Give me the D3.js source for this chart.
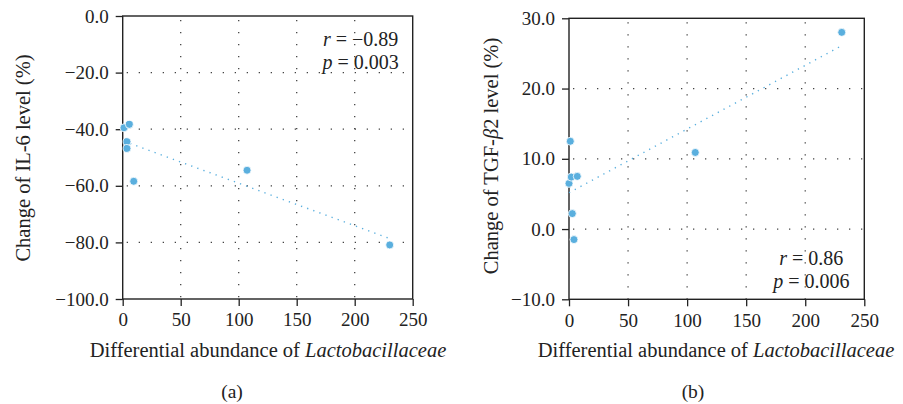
<!DOCTYPE html>
<html>
<head>
<meta charset="utf-8">
<script src="https://cdn.jsdelivr.net/npm/d3@7"></script>
<style>
  body { margin: 0; background: #fff; }
  svg { display: block; font-family: "Liberation Serif", "DejaVu Serif", serif; }
  .tick text { font-size: 19px; fill: #222; }
  .grid line { stroke: #444; stroke-width: 1.3; stroke-dasharray: 1.3 10.7; }
</style>
</head>
<body>
<script>
// chart data
var xTicks = [0, 50, 100, 150, 200, 250];

// panel (a): IL-6
var abundanceA = [1.1, 5.7, 3.7, 3.7, 9.5, 107.2, 230.2];
var il6Change = [-39.5, -38.3, -44.4, -46.8, -58.4, -54.5, -80.9];
var il6Ticks = [0, -20, -40, -60, -80, -100];
var statsA = ["r", " = \u22120.89", "p", " = 0.003"];

// panel (b): TGF-beta2
var abundanceB = [0.0, 1.1, 1.9, 7.0, 2.8, 4.2, 106.9, 230.9];
var tgfChange = [6.5, 12.5, 7.4, 7.5, 2.2, -1.5, 10.9, 28.0];
var tgfTicks = [30, 20, 10, 0, -10];
var statsB = ["r", " = 0.86", "p", " = 0.006"];

var w = 903, h = 404;
var dotColor = "#5aafde";
var serif = "'Liberation Serif', 'DejaVu Serif', serif";

var svg = d3.select("body").append("svg")
	.attr("width", w)
	.attr("height", h);

// least squares fit for the dotted trend line
function fit(xs, ys){
	var mx = d3.mean(xs), my = d3.mean(ys);
	var sxy = d3.sum(xs, function(x, i){ return (x - mx) * (ys[i] - my); });
	var sxx = d3.sum(xs, function(x){ return (x - mx) * (x - mx); });
	var b = sxy / sxx;
	return { slope: b, icpt: my - b * mx };
}

function drawPanel(p){
	var x = d3.scaleLinear().domain([0, 250]).range([p.left, p.right]);
	var y = d3.scaleLinear().domain(p.yDomain).range([p.bottom, p.top]);
	var g = svg.append("g").attr("class", "panel");

	// dotted grid
	var grid = g.append("g").attr("class", "grid");
	grid.selectAll(".vg")
		.data(xTicks.slice(1, -1))
		.enter().append("line")
		.attr("x1", function(d){ return x(d); })
		.attr("x2", function(d){ return x(d); })
		.attr("y1", p.top + 4)
		.attr("y2", p.bottom);
	grid.selectAll(".hg")
		.data(p.yTicks.slice(1, -1))
		.enter().append("line")
		.attr("x1", p.left + 4)
		.attr("x2", p.right)
		.attr("y1", function(d){ return y(d); })
		.attr("y2", function(d){ return y(d); });

	// axes
	var xAxis = g.append("g")
		.attr("transform", "translate(0," + p.bottom + ")")
		.call(d3.axisBottom(x).tickValues(xTicks).tickSize(7).tickPadding(7).tickFormat(d3.format("d")));
	var yAxis = g.append("g")
		.attr("transform", "translate(" + p.left + ",0)")
		.call(d3.axisLeft(y).tickValues(p.yTicks).tickSize(7).tickPadding(7).tickFormat(d3.format(".1f")));
	[xAxis, yAxis].forEach(function(a){
		a.attr("font-family", serif);
		a.select(".domain").remove();
		a.selectAll(".tick line").attr("stroke", "#222").attr("stroke-width", 1.3);
	});

	// box frame
	g.append("rect")
		.attr("x", p.left)
		.attr("y", p.top)
		.attr("width", p.right - p.left)
		.attr("height", p.bottom - p.top)
		.style("fill", "none")
		.style("stroke", "#222")
		.style("stroke-width", 1.4);

	// trend line
	var f = fit(p.xs, p.ys);
	var x0 = d3.min(p.xs), x1 = d3.max(p.xs);
	g.append("line")
		.attr("x1", x(x0)).attr("y1", y(f.icpt + f.slope * x0))
		.attr("x2", x(x1)).attr("y2", y(f.icpt + f.slope * x1))
		.style("stroke", dotColor)
		.style("stroke-width", 1.4)
		.style("stroke-dasharray", "1.3 5.2");

	// points
	g.selectAll(".pt")
		.data(p.xs)
		.enter().append("circle")
		.attr("class", "pt")
		.attr("cx", function(d){ return x(d); })
		.attr("cy", function(d, i){ return y(p.ys[i]); })
		.attr("r", 4)
		.style("fill", dotColor)
		.style("stroke", "#fff")
		.style("stroke-width", 0.8);

	// r and p labels
	var st = g.append("g").attr("font-size", 20).attr("fill", "#222").attr("text-anchor", "middle");
	[0, 1].forEach(function(k){
		var t = st.append("text")
			.attr("x", p.statX)
			.attr("y", p.statY + k * 22.5);
		t.append("tspan").attr("font-style", "italic").text(p.stats[k * 2]);
		t.append("tspan").text(p.stats[k * 2 + 1]);
	});

	// axis titles
	var xt = g.append("text")
		.attr("x", p.xTitleX)
		.attr("y", 357)
		.attr("text-anchor", "middle")
		.attr("font-size", 20.5)
		.attr("fill", "#222");
	xt.append("tspan").text("Differential abundance of ");
	xt.append("tspan").attr("font-style", "italic").text("Lactobacillaceae");

	var yt = g.append("text")
		.attr("transform", "translate(" + p.yTitleX + "," + p.yTitleY + ") rotate(-90)")
		.attr("text-anchor", "middle")
		.attr("font-size", 20.5)
		.attr("fill", "#222");
	p.yTitle.forEach(function(part){
		yt.append("tspan").attr("font-style", part[1] ? "italic" : null).text(part[0]);
	});

	g.append("text")
		.attr("x", p.labelX)
		.attr("y", 398)
		.attr("text-anchor", "middle")
		.attr("font-size", 19.5)
		.attr("fill", "#222")
		.text(p.label);
}

drawPanel({
	left: 122.7, right: 412.7, top: 16, bottom: 299,
	yDomain: [-100, 0], yTicks: il6Ticks,
	xs: abundanceA, ys: il6Change,
	stats: statsA, statX: 360.7, statY: 46,
	xTitleX: 268, yTitleX: 30, yTitleY: 158,
	yTitle: [["Change of IL-6 level (%)", false]],
	label: "(a)", labelX: 232
});

drawPanel({
	left: 569, right: 864.3, top: 18.3, bottom: 299.3,
	yDomain: [-10, 30], yTicks: tgfTicks,
	xs: abundanceB, ys: tgfChange,
	stats: statsB, statX: 811.3, statY: 265,
	xTitleX: 716, yTitleX: 498, yTitleY: 156,
	yTitle: [["Change of TGF-", false], ["\u03b2", true], ["2 level (%)", false]],
	label: "(b)", labelX: 693
});
</script>
</body>
</html>
